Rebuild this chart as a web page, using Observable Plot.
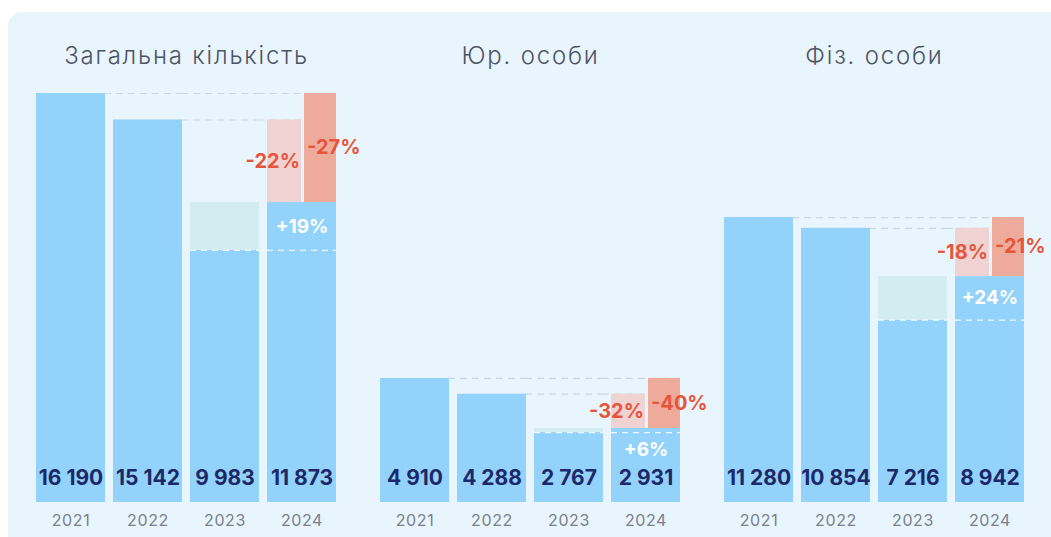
<!DOCTYPE html>
<html>
<head>
<meta charset="utf-8">
<script src="https://cdn.jsdelivr.net/npm/d3@7"></script>
<script src="https://cdn.jsdelivr.net/npm/@observablehq/plot@0.6"></script>
<style>
  html, body { margin: 0; padding: 0; background: #ffffff; width: 1051px; height: 537px; overflow: hidden; }
  #panel { position: absolute; left: 8px; top: 12px; width: 1043px; height: 525px; background: #e9f5fd; border-top-left-radius: 14px; }
  #chart { position: absolute; left: 0; top: 0; }
  #chart g[aria-label="fx-axis tick label"] text { letter-spacing: 1.8px; }
  #chart g[aria-label="x-axis tick label"] text { letter-spacing: 0.6px; }
</style>
</head>
<body>
<div id="panel"></div>
<div id="chart"></div>
<script>
const groups = ["Загальна кількість", "Юр. особи", "Фіз. особи"];
const years = ["2021", "2022", "2023", "2024"];
const total = [16190, 15142, 9983, 11873];
const legal = [4910, 4288, 2767, 2931];
const individual = [11280, 10854, 7216, 8942];
const change2024vs2022 = ["-22%", "-32%", "-18%"];
const change2024vs2021 = ["-27%", "-40%", "-21%"];
const change2024vs2023 = ["+19%", "+6%", "+24%"];

const series = [total, legal, individual];
const rows = groups.flatMap((g, i) => years.map((yr, j) => ({group: g, year: yr, value: series[i][j]})));
const comp = groups.map((g, i) => ({
  group: g, v21: series[i][0], v22: series[i][1], v23: series[i][2], v24: series[i][3],
  p22: change2024vs2022[i], p21: change2024vs2021[i], p23: change2024vs2023[i],
  c23: "2023", c24: "2024"
}));
const expand = (cols) => comp.flatMap(c => cols.map(col => ({...c, col})));

const fmt = v => d3.format(",")(v).replace(/,/g, " ");

const plot = Plot.plot({
  width: 1051,
  height: 537,
  marginLeft: 35,
  marginRight: 25,
  marginTop: 93,
  marginBottom: 35,
  fx: {domain: groups, paddingInner: 0.122, paddingOuter: 0, label: null},
  x: {domain: years, paddingInner: 0.11, paddingOuter: 0, label: null},
  y: {domain: [0, 16190], axis: null},
  style: {background: "transparent", fontFamily: "Inter, 'Noto Sans', sans-serif"},
  marks: [
    Plot.tickY(expand(["2022", "2023", "2024"]), {fx: "group", x: "col", y: "v21", stroke: "#cdd6de", strokeWidth: 1.2, strokeDasharray: "7,5", insetLeft: -9}),
    Plot.tickY(expand(["2023", "2024"]), {fx: "group", x: "col", y: "v22", stroke: "#cdd6de", strokeWidth: 1.2, strokeDasharray: "7,5", insetLeft: -9}),
    Plot.barY(rows, {fx: "group", x: "year", y: "value", fill: "#93d2fa"}),
    Plot.barY(comp, {fx: "group", x: "c23", y1: "v23", y2: "v24", fill: "#d3ecef"}),
    Plot.barY(comp, {fx: "group", x: "c24", y1: "v24", y2: "v22", fill: "#efd2d2", insetRight: 35}),
    Plot.barY(comp, {fx: "group", x: "c24", y1: "v24", y2: "v21", fill: "#eeab9b", insetLeft: 37}),
    Plot.tickY(expand(["2023", "2024"]), {fx: "group", x: "col", y: "v23", stroke: "#ffffff", strokeOpacity: 0.85, strokeWidth: 1.3, strokeDasharray: "6,5"}),
    Plot.text(rows, {fx: "group", x: "year", y: 0, dy: -24, text: d => fmt(d.value), fontSize: 21, fontWeight: 700, fill: "#1d2868", letterSpacing: 0.3}),
    Plot.text(comp, {fx: "group", x: "c24", y: d => (d.v22 + d.v24) / 2, text: "p22", textAnchor: "end", dx: -2, fontSize: 20, fontWeight: 700, fill: "#e6553b", letterSpacing: 1}),
    Plot.text(comp, {fx: "group", x: "c24", y: d => (d.v21 + d.v24) / 2, text: "p21", textAnchor: "start", dx: 5, fontSize: 20, fontWeight: 700, fill: "#e6553b", letterSpacing: 1}),
    Plot.text(comp, {fx: "group", x: "c24", y: d => (d.v24 - d.v23) < 1500 ? d.v23 - 700 : (d.v23 + d.v24) / 2, text: "p23", fontSize: 19, fontWeight: 700, fill: "#ffffff", letterSpacing: 1}),
    Plot.axisX({tickSize: 0, tickPadding: 12, fontSize: 16, color: "#7a7f8c", label: null}),
    Plot.axisFx({anchor: "top", tickSize: 0, tickPadding: 30, fontSize: 24, fontWeight: 300, color: "#4d5466", label: null})
  ]
});
document.getElementById("chart").appendChild(plot);
</script>
</body>
</html>
